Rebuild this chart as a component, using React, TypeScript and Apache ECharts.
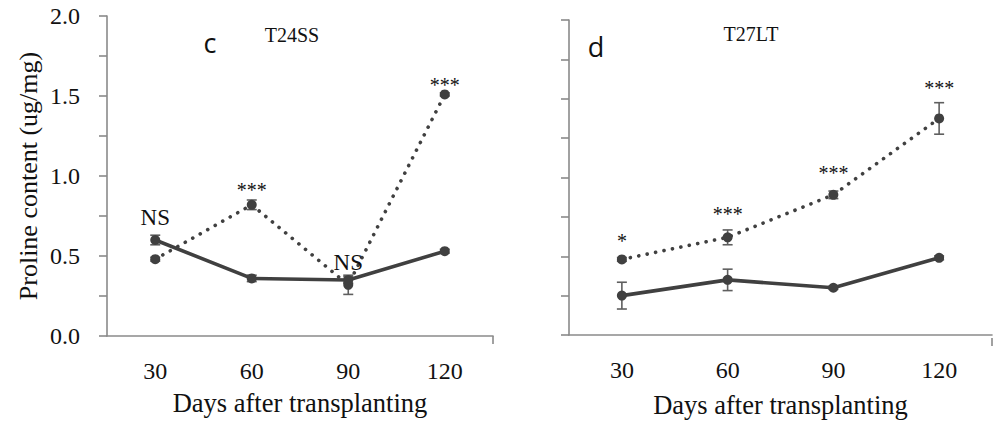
import React, { useEffect, useRef } from "react";
import * as echarts from "echarts";

const categories = ["30", "60", "90", "120"];

// Panel c (T24SS)
const cSolid = [0.6, 0.36, 0.35, 0.53];
const cSolidErr = [0.03, 0.02, 0.02, 0.012];
const cDotted = [0.48, 0.82, 0.32, 1.51];
const cDottedErr = [0.012, 0.03, 0.06, 0.01];
const cAnnot = ["NS", "***", "NS", "***"];
const cAnnotY = [0.74, 0.91, 0.46, 1.57];

// Panel d (T27LT)
const dSolid = [0.25, 0.35, 0.3, 0.49];
const dSolidErr = [0.085, 0.068, 0.01, 0.012];
const dDotted = [0.48, 0.62, 0.89, 1.375];
const dDottedErr = [0.012, 0.047, 0.024, 0.1];
const dAnnot = ["*", "***", "***", "***"];
const dAnnotY = [0.6, 0.77, 1.03, 1.57];

const yTicks = { min: 0, max: 2, interval: 0.25 };

const FONT = "Liberation Serif";
const AXIS_COLOR = "#8a8a8a";
const LINE_COLOR = "#404040";
const ERR_COLOR = "#5f5f5f";

function errSeries(vals: number[], errs: number[], gi: number) {
  return {
    type: "custom",
    xAxisIndex: gi,
    yAxisIndex: gi,
    z: 5,
    data: vals.map((v, i) => [i, v - errs[i], v + errs[i]]),
    renderItem: (params: any, api: any) => {
      const lo = api.coord([api.value(0), api.value(1)]);
      const hi = api.coord([api.value(0), api.value(2)]);
      const w = 5;
      const st = { stroke: ERR_COLOR, lineWidth: 1.6 };
      return {
        type: "group",
        children: [
          { type: "line", shape: { x1: lo[0], y1: lo[1], x2: hi[0], y2: hi[1] }, style: st },
          { type: "line", shape: { x1: lo[0] - w, y1: lo[1], x2: lo[0] + w, y2: lo[1] }, style: st },
          { type: "line", shape: { x1: hi[0] - w, y1: hi[1], x2: hi[0] + w, y2: hi[1] }, style: st },
        ],
      };
    },
  };
}

function lineSeries(vals: number[], gi: number, dotted: boolean) {
  return {
    type: "line",
    xAxisIndex: gi,
    yAxisIndex: gi,
    data: vals,
    symbol: "circle",
    symbolSize: 10,
    z: 6,
    itemStyle: { color: LINE_COLOR },
    lineStyle: dotted
      ? { color: LINE_COLOR, width: 3.6, type: [0.1, 8.5], cap: "round" }
      : { color: LINE_COLOR, width: 3.6 },
  };
}

function annotSeries(texts: string[], ys: number[], gi: number) {
  return {
    type: "custom",
    xAxisIndex: gi,
    yAxisIndex: gi,
    z: 10,
    data: ys.map((y, i) => [i, y]),
    renderItem: (params: any, api: any) => {
      const p = api.coord([api.value(0), api.value(1)]);
      const t = texts[params.dataIndex];
      return {
        type: "text",
        x: p[0],
        y: p[1],
        style: {
          text: t,
          fill: "#111111",
          font: `${t === "NS" ? 23 : 20}px "${FONT}"`,
          textAlign: "center",
          textVerticalAlign: "middle",
        },
      };
    },
  };
}

function xAxis(gi: number, nameGap: number) {
  return {
    type: "category",
    gridIndex: gi,
    data: categories,
    boundaryGap: true,
    name: "Days after transplanting",
    nameLocation: "middle",
    nameGap,
    nameTextStyle: { fontFamily: FONT, fontSize: 26.5, color: "#111" },
    axisLine: { lineStyle: { color: AXIS_COLOR, width: 1.6 } },
    axisTick: { alignWithLabel: true, length: 8, lineStyle: { color: AXIS_COLOR, width: 1.6 } },
    axisLabel: { fontFamily: FONT, fontSize: 24, color: "#111", margin: 23 },
    splitLine: { show: false },
  };
}

function yAxis(gi: number, showLabels: boolean) {
  return {
    type: "value",
    gridIndex: gi,
    ...yTicks,
    name: showLabels ? "Proline content (ug/mg)" : "",
    nameLocation: "middle",
    nameGap: 66,
    nameTextStyle: { fontFamily: FONT, fontSize: 26, color: "#111" },
    axisLine: { show: true, lineStyle: { color: AXIS_COLOR, width: 1.6 } },
    axisTick: { show: true, length: 8, lineStyle: { color: AXIS_COLOR, width: 1.6 } },
    axisLabel: {
      show: showLabels,
      fontFamily: FONT,
      fontSize: 24,
      color: "#111",
      margin: 27,
      formatter: (v: number) => (Math.round(v * 4) % 2 === 0 ? v.toFixed(1) : ""),
    },
    splitLine: { show: false },
  };
}

export default function App() {
  const ref = useRef<HTMLDivElement>(null);
  useEffect(() => {
    if (!ref.current) return;
    const chart = echarts.init(ref.current, null, { renderer: "svg" });
    const g0 = { left: 107, top: 16, width: 386, height: 320 };
    const g1 = { left: 569, top: 20, width: 423, height: 318 };
    chart.setOption({
      animation: false,
      backgroundColor: "#ffffff",
      grid: [g0, g1],
      xAxis: [xAxis(0, 53), xAxis(1, 56)],
      yAxis: [yAxis(0, true), yAxis(1, false)],
      series: [
        errSeries(cDotted, cDottedErr, 0),
        errSeries(cSolid, cSolidErr, 0),
        lineSeries(cDotted, 0, true),
        lineSeries(cSolid, 0, false),
        annotSeries(cAnnot, cAnnotY, 0),
        errSeries(dDotted, dDottedErr, 1),
        errSeries(dSolid, dSolidErr, 1),
        lineSeries(dDotted, 1, true),
        lineSeries(dSolid, 1, false),
        annotSeries(dAnnot, dAnnotY, 1),
      ],
      graphic: [
        {
          type: "line",
          shape: { x1: g0.left + g0.width, y1: g0.top + g0.height, x2: g0.left + g0.width, y2: g0.top + g0.height + 8 },
          style: { stroke: AXIS_COLOR, lineWidth: 1.6 },
        },
        {
          type: "line",
          shape: { x1: g1.left + g1.width, y1: g1.top + g1.height, x2: g1.left + g1.width, y2: g1.top + g1.height + 8 },
          style: { stroke: AXIS_COLOR, lineWidth: 1.6 },
        },
        {
          type: "text",
          x: 210,
          y: 42,
          style: { text: "c", font: '27px "Open Sans"', fill: "#111", textAlign: "center", textVerticalAlign: "middle" },
        },
        {
          type: "text",
          x: 292,
          y: 35,
          style: { text: "T24SS", font: `20px "${FONT}"`, fill: "#111", textAlign: "center", textVerticalAlign: "middle" },
        },
        {
          type: "text",
          x: 596,
          y: 46,
          style: { text: "d", font: '27px "Open Sans"', fill: "#111", textAlign: "center", textVerticalAlign: "middle" },
        },
        {
          type: "text",
          x: 751,
          y: 34,
          style: { text: "T27LT", font: `20px "${FONT}"`, fill: "#111", textAlign: "center", textVerticalAlign: "middle" },
        },
      ],
    });
    return () => chart.dispose();
  }, []);
  return (
    <div
      ref={ref}
      style={{ position: "absolute", left: 0, top: 0, width: 995, height: 423, background: "#fff" }}
    />
  );
}
